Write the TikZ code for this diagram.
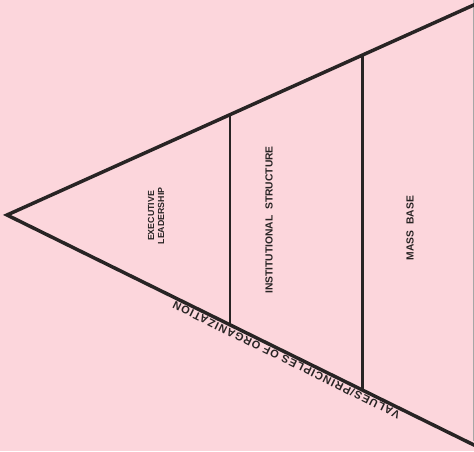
\documentclass[tikz,border=0pt]{standalone}
\usepackage{fontspec}
\setmainfont{Liberation Sans}
\usetikzlibrary{calc}
\definecolor{paper}{RGB}{252,214,220}
\definecolor{ink}{RGB}{40,36,36}
\begin{document}
\begin{tikzpicture}[x=1pt, y=1pt, font=\fontsize{10.3}{11}\selectfont\bfseries,
        side/.style={ink, line width=3.5pt, line cap=round, line join=miter},
        divider/.style={ink, line width=2.2pt},
        label/.style={ink, rotate=90, align=center, inner sep=0pt}]
    \fill[paper] (0,0) rectangle (474,451);
    \useasboundingbox (0,0) rectangle (474,451);
    \coordinate (apex) at (7,236);
    \coordinate (top) at (476,447);
    \coordinate (bot) at (476,5);
    \draw[gray!70, line width=0.6pt] (473,451) -- (473,10);
    \draw[side] (top) -- (apex) -- (bot);
    % dividers between the three layers
    \draw[divider] ($(apex)!0.475!(top)$) -- ($(apex)!0.475!(bot)$);
    \draw[divider] ($(apex)!0.758!(top)$) -- ($(apex)!0.758!(bot)$);
    \node[label, font=\fontsize{8.8}{10}\selectfont\bfseries] (lead) at (156,235) {EXECUTIVE\\LEADERSHIP};
    \node[label] (inst) at (269,231) {INSTITUTIONAL\ \ STRUCTURE};
    \node[label] (mass) at (410,223) {MASS\ \ BASE};
    \node[ink, rotate=153.8, anchor=south, inner sep=2.5pt, font=\fontsize{11}{12}\selectfont\bfseries] (vals) at ($(apex)!0.602!(bot)$)
        {\addfontfeatures{LetterSpace=10}VALUES/PRINCIPLES OF ORGANIZATION};
\end{tikzpicture}
\end{document}
